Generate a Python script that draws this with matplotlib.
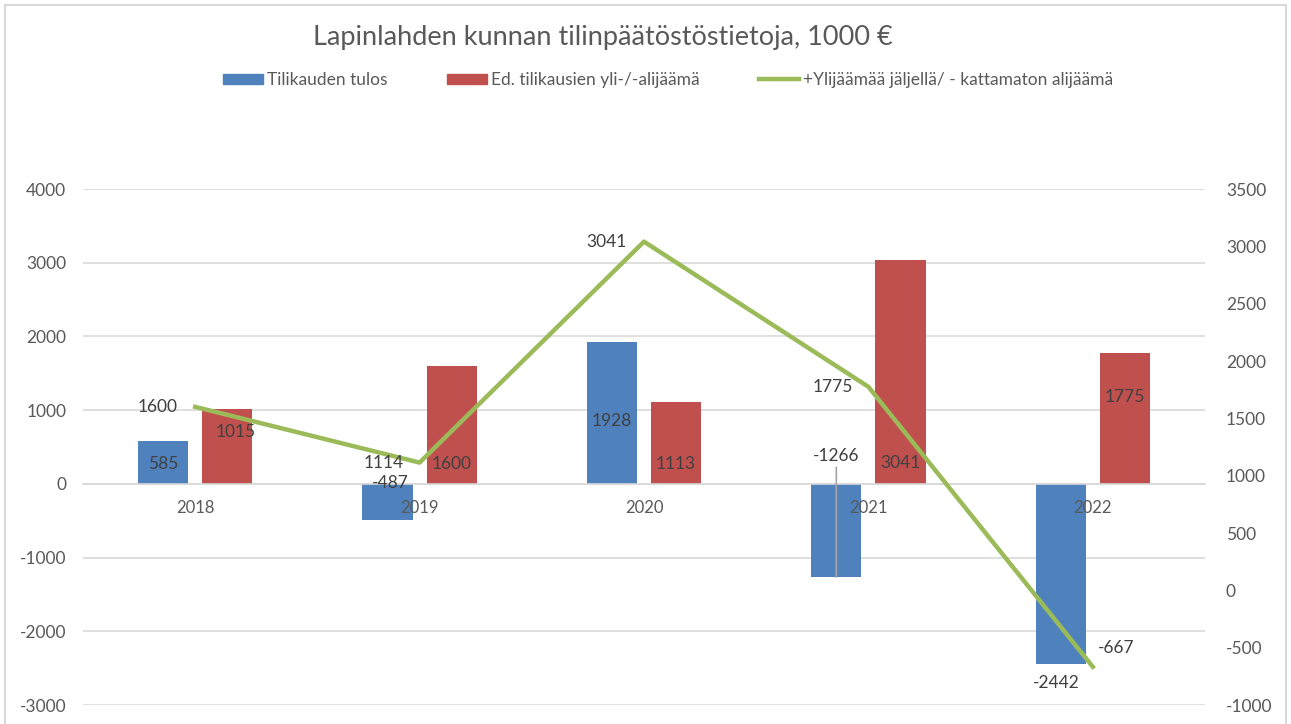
import matplotlib
matplotlib.use("Agg")
import matplotlib.pyplot as plt
from matplotlib.patches import Rectangle
from matplotlib.lines import Line2D
import numpy as np

years = ["2018", "2019", "2020", "2021", "2022"]
tulos = [585, -487, 1928, -1266, -2442]
ed_tilikausien = [1015, 1600, 1113, 3041, 1775]
ylijaama = [1600, 1114, 3041, 1775, -667]

title = "Lapinlahden kunnan tilinpäätöstöstietoja, 1000 €"
legend_labels = ["Tilikauden tulos", "Ed. tilikausien yli-/-alijäämä",
                 "+Ylijäämää jäljellä/ - kattamaton alijäämä"]

left_ticks = [-3000, -2000, -1000, 0, 1000, 2000, 3000, 4000]
right_ticks = [-1000, -500, 0, 500, 1000, 1500, 2000, 2500, 3000, 3500]

# label offsets in pixels (dx, dy)
tulos_off = [(0, -23), (3, 37), (0, -79), (0, 121), (-4, -19)]
ed_off = [(8, -23), (0, -98), (0, -62), (0, -203), (0, -44)]
yli_off = [(-38, 0), (-36, 0), (-38, 0), (-36, 0), (23, 19)]

BLUE = "#4F81BD"
RED = "#C0504D"
GREEN = "#9BBB59"
GRID = "#D9D9D9"
TXT = "#595959"
LBL = "#404040"

plt.rcParams['font.family'] = ['Lato', 'DejaVu Sans']

W, H = 1291, 724
fig = plt.figure(figsize=(W / 100, H / 100), dpi=100)
fig.patch.set_facecolor("white")

fig.add_artist(Rectangle((5 / W, -0.05), (1286 - 5) / W, 1 - 5 / H + 0.05,
                         transform=fig.transFigure, fill=False,
                         edgecolor=GRID, linewidth=1.5))

ax = fig.add_axes([83 / W, 1 - 705 / H, (1205 - 83) / W, (705 - 189) / H])
ax2 = ax.twinx()

x = np.arange(len(years))
bw = 0.223
off = 0.143
ax.bar(x - off, tulos, bw, color=BLUE, zorder=2)
ax.bar(x + off, ed_tilikausien, bw, color=RED, zorder=2)
ax.set_xlim(-0.5, 4.5)
ax.set_ylim(-3000, 4000)
ax.set_yticks(left_ticks)
ax.set_yticklabels([str(v) for v in left_ticks])
ax.grid(axis="y", color=GRID, linewidth=1.2, zorder=0)
ax.set_axisbelow(True)
for s in ["top", "left", "right"]:
    ax.spines[s].set_visible(False)
ax.spines["bottom"].set_position(("data", 0))
ax.spines["bottom"].set_color(GRID)
ax.spines["bottom"].set_linewidth(1.2)
ax.set_xticks(x)
ax.set_xticklabels([])
ax.tick_params(axis="x", length=0)
ax.tick_params(axis="y", length=0, pad=12, labelsize=12.5, labelcolor=TXT)

# category labels drawn on top of bars
for i, yr in enumerate(years):
    ax.annotate(yr, (x[i], 0), xytext=(0, -24), textcoords="offset pixels",
                ha="center", va="center", fontsize=12, color=TXT, zorder=6)

ax2.plot(x, ylijaama, color=GREEN, linewidth=3.2, zorder=3)
ax2.set_ylim(-1000, 3500)
ax2.set_yticks(right_ticks)
ax2.set_yticklabels([str(v) for v in right_ticks])
for s in ["top", "left", "right", "bottom"]:
    ax2.spines[s].set_visible(False)
ax2.tick_params(axis="y", length=0, pad=15, labelsize=12.5, labelcolor=TXT)

fs = 12.5
for i, v in enumerate(tulos):
    dx, dy = tulos_off[i]
    ax2.annotate(str(v), (x[i] - off, v), xycoords=ax.transData, xytext=(dx, dy),
                 textcoords="offset pixels", ha="center", va="center",
                 fontsize=fs, color=LBL, zorder=5)
for i, v in enumerate(ed_tilikausien):
    dx, dy = ed_off[i]
    ax2.annotate(str(v), (x[i] + off, v), xycoords=ax.transData, xytext=(dx, dy),
                 textcoords="offset pixels", ha="center", va="center",
                 fontsize=fs, color=LBL, zorder=5)
for i, v in enumerate(ylijaama):
    dx, dy = yli_off[i]
    ax2.annotate(str(v), (x[i], v), xytext=(dx, dy), textcoords="offset pixels",
                 ha="center", va="center", fontsize=fs, color=LBL, zorder=5)

# leader line for -1266 label
ax.annotate("", (x[3] - off, tulos[3]), xytext=(0, 110), textcoords="offset pixels",
            arrowprops=dict(arrowstyle="-", color="#A6A6A6", lw=1.2, shrinkA=0, shrinkB=0),
            zorder=4)

fig.text(603 / W, 1 - 37 / H, title, ha="center", va="center", fontsize=19.5, color=TXT)

handles = [Rectangle((0, 0), 1, 1, color=BLUE), Rectangle((0, 0), 1, 1, color=RED),
           Line2D([0], [0], color=GREEN, linewidth=3.2)]
fig.legend(handles, legend_labels, loc="center", bbox_to_anchor=(668 / W, 1 - 80 / H),
           ncol=3, frameon=False, fontsize=12.5, labelcolor=TXT, handlelength=2.3,
           handleheight=0.55, handletextpad=0.25, columnspacing=3.4)

fig.savefig("out.png", dpi=100, facecolor="white")
